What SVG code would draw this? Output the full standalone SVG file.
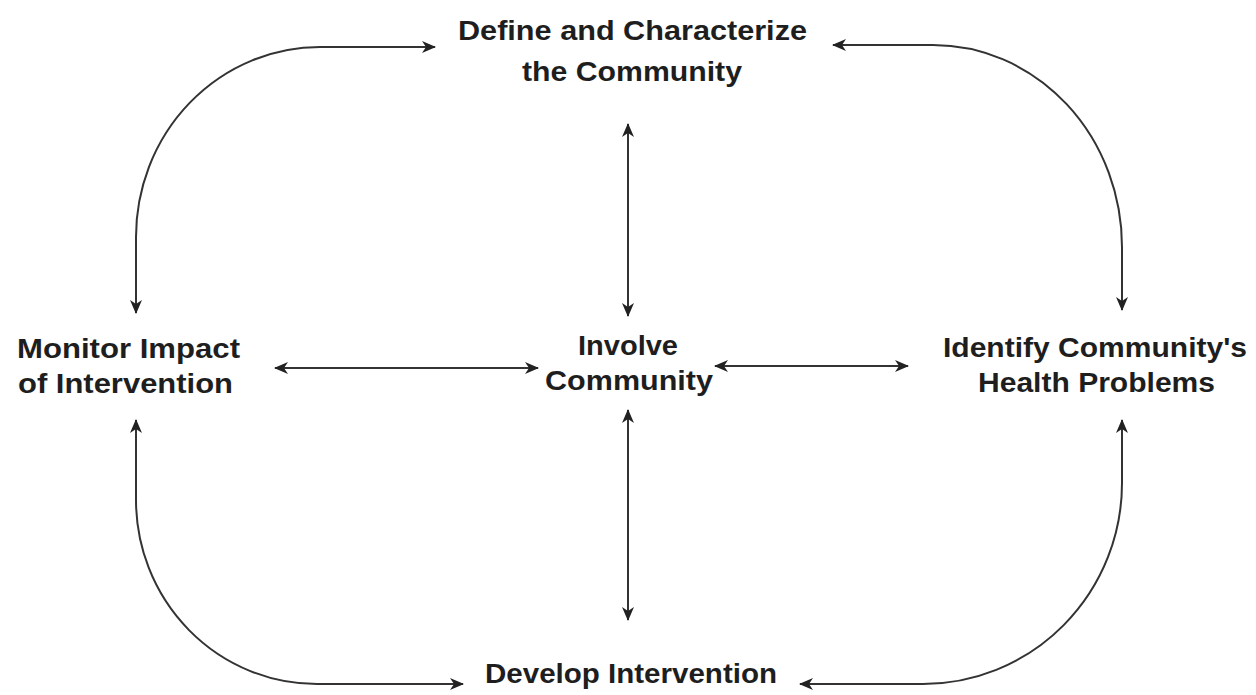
<svg xmlns="http://www.w3.org/2000/svg" width="1256" height="695" viewBox="0 0 1256 695">
<style>
.t{font-family:"Liberation Sans",Arial,sans-serif;font-weight:bold;font-size:27px;fill:#1e1e1e}
.c{fill:none;stroke:#333;stroke-width:2}
</style>
<defs>
<marker id="ah" viewBox="0 0 14 12" refX="13" refY="6" markerWidth="14" markerHeight="12" markerUnits="userSpaceOnUse" orient="auto-start-reverse">
<path d="M0,0 L14,6 L0,12 L4,6 Z" fill="#222"/>
</marker>
</defs>
<rect width="1256" height="695" fill="#fff"/>
<g id="connectors">
<path class="c" d="M435,47 L320,47 A184,190 0 0 0 136,237 L136,313" marker-start="url(#ah)" marker-end="url(#ah)"/>
<path class="c" d="M833,45 L933,45 A189,202 0 0 1 1122,247 L1122,310" marker-start="url(#ah)" marker-end="url(#ah)"/>
<path class="c" d="M136,420 L136,500 A181,184 0 0 0 317,684 L463,684" marker-start="url(#ah)" marker-end="url(#ah)"/>
<path class="c" d="M1122,420 L1122,483 A199,201 0 0 1 923,684 L800,684" marker-start="url(#ah)" marker-end="url(#ah)"/>
<path class="c" d="M628,124 L628,316" marker-start="url(#ah)" marker-end="url(#ah)"/>
<path class="c" d="M628,410 L628,620" marker-start="url(#ah)" marker-end="url(#ah)"/>
<path class="c" d="M275,368 L538,368" marker-start="url(#ah)" marker-end="url(#ah)"/>
<path class="c" d="M715,366 L908,366" marker-start="url(#ah)" marker-end="url(#ah)"/>
</g>
<g id="define"><text class="t" x="458" y="40" textLength="349" lengthAdjust="spacingAndGlyphs">Define and Characterize</text><text class="t" x="522" y="81" textLength="220" lengthAdjust="spacingAndGlyphs">the Community</text></g>
<g id="monitor"><text class="t" x="17" y="358" textLength="223" lengthAdjust="spacingAndGlyphs">Monitor Impact</text><text class="t" x="18" y="393" textLength="215" lengthAdjust="spacingAndGlyphs">of Intervention</text></g>
<g id="involve"><text class="t" x="578" y="355" textLength="100" lengthAdjust="spacingAndGlyphs">Involve</text><text class="t" x="545" y="390" textLength="168" lengthAdjust="spacingAndGlyphs">Community</text></g>
<g id="identify"><text class="t" x="943" y="357" textLength="304" lengthAdjust="spacingAndGlyphs">Identify Community's</text><text class="t" x="978" y="392" textLength="237" lengthAdjust="spacingAndGlyphs">Health Problems</text></g>
<g id="develop"><text class="t" x="485" y="683" textLength="292" lengthAdjust="spacingAndGlyphs">Develop Intervention</text></g>
</svg>
